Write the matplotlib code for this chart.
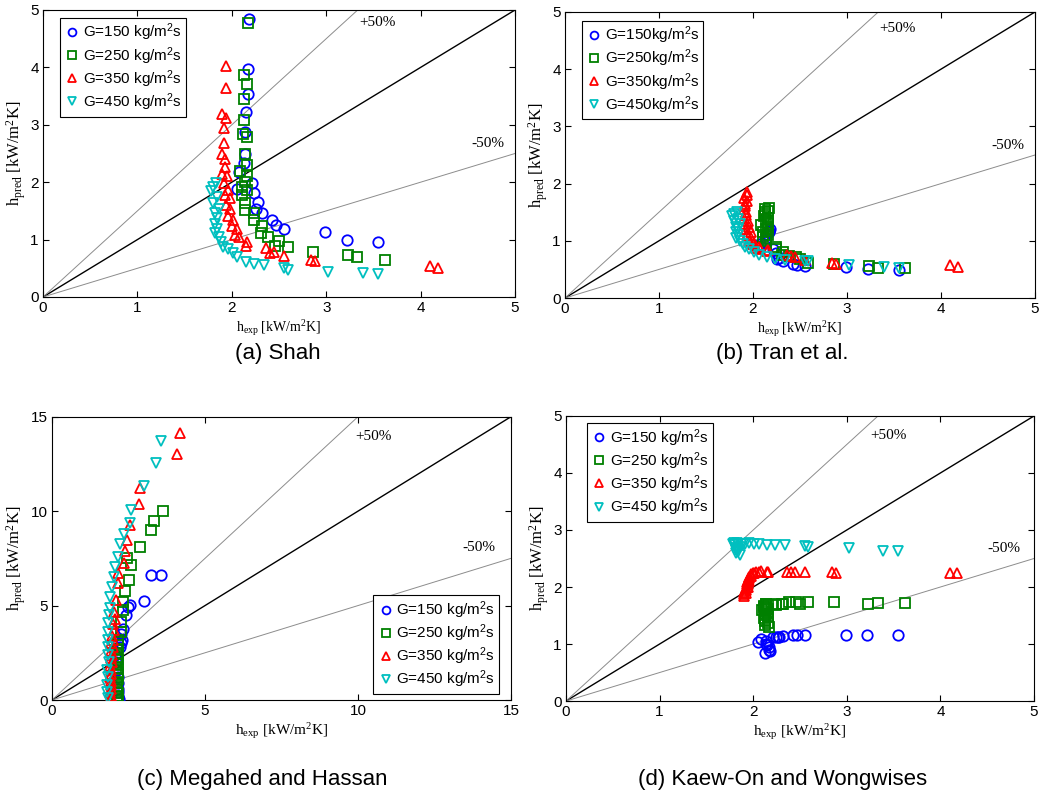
import numpy as np
import matplotlib
matplotlib.use('Agg')
import matplotlib.pyplot as plt

plt.rcParams['mathtext.default'] = 'regular'
plt.rcParams['font.family'] = ['Liberation Sans', 'DejaVu Sans']

# experimental h [kW/m2K] for each mass flux
x150 = [2.18, 2.17, 2.17, 2.15, 2.14, 2.14, 2.13, 2.08, 2.05, 2.21, 2.24, 2.28, 2.26, 2.32,
        2.43, 2.47, 2.55, 2.99, 3.22, 3.55]
x250 = [2.17, 2.13, 2.16, 2.13, 2.13, 2.12, 2.16, 2.14, 2.16, 2.09, 2.16, 2.14, 2.11, 2.16,
        2.11, 2.14, 2.14, 2.24, 2.24, 2.32, 2.31, 2.38, 2.50, 2.46, 2.59, 2.86, 3.23, 3.33, 3.62]
x350 = [1.94, 1.94, 1.90, 1.94, 1.92, 1.92, 1.90, 1.93, 1.93, 1.90, 1.95, 1.92, 1.96, 1.93,
        1.98, 1.94, 1.98, 1.96, 2.01, 2.00, 2.06, 2.03, 2.08, 2.16, 2.15, 2.36, 2.40, 2.45,
        2.55, 2.84, 2.88, 4.10, 4.18]
x450 = [1.83, 1.80, 1.78, 1.84, 1.80, 1.86, 1.82, 1.84, 1.82, 1.84, 1.82, 1.86, 1.89, 1.91,
        1.96, 2.01, 2.06, 2.15, 2.23, 2.34, 2.55, 2.59, 3.02, 3.39, 3.55]

# (a) Shah
shah150 = [4.85, 3.97, 3.54, 3.22, 2.88, 2.49, 2.33, 2.17, 1.89, 1.98, 1.81, 1.66, 1.54, 1.47,
           1.34, 1.25, 1.19, 1.14, 0.99, 0.96]
shah250 = [4.78, 3.86, 3.71, 3.45, 3.09, 2.84, 2.79, 2.49, 2.30, 2.19, 2.10, 2.01, 1.92, 1.86,
           1.78, 1.63, 1.52, 1.46, 1.34, 1.24, 1.12, 1.05, 0.98, 0.89, 0.87, 0.79, 0.73, 0.69, 0.64]
shah350 = [4.02, 3.64, 3.18, 3.11, 2.94, 2.68, 2.49, 2.40, 2.27, 2.14, 2.10, 1.99, 1.86, 1.78,
           1.72, 1.60, 1.54, 1.41, 1.34, 1.24, 1.18, 1.08, 1.04, 0.96, 0.89, 0.85, 0.76, 0.79,
           0.71, 0.64, 0.63, 0.54, 0.51]
shah450 = [1.99, 1.92, 1.84, 1.75, 1.63, 1.54, 1.46, 1.37, 1.27, 1.19, 1.11, 1.04, 0.96, 0.87,
           0.83, 0.76, 0.70, 0.61, 0.57, 0.55, 0.51, 0.47, 0.44, 0.42, 0.40]

# (b) Tran et al.
tran150 = [1.20, 1.18, 1.15, 1.12, 1.10, 1.05, 1.00, 0.95, 0.90, 0.85, 0.78, 0.70, 0.68, 0.64,
           0.60, 0.57, 0.56, 0.55, 0.51, 0.49]
tran250 = [1.57, 1.55, 1.52, 1.50, 1.47, 1.44, 1.40, 1.36, 1.32, 1.28, 1.24, 1.20, 1.15, 1.10,
           1.06, 1.03, 1.00, 0.89, 0.85, 0.80, 0.76, 0.73, 0.68, 0.71, 0.62, 0.60, 0.56, 0.53, 0.52]
tran350 = [1.86, 1.80, 1.75, 1.70, 1.65, 1.60, 1.55, 1.50, 1.45, 1.40, 1.35, 1.30, 1.25, 1.20,
           1.15, 1.10, 1.05, 1.00, 0.97, 0.94, 0.90, 0.88, 0.86, 0.84, 0.82, 0.75, 0.73, 0.71,
           0.66, 0.62, 0.59, 0.58, 0.55]
tran450 = [1.51, 1.47, 1.43, 1.39, 1.35, 1.30, 1.25, 1.20, 1.15, 1.10, 1.05, 1.00, 0.95, 0.90,
           0.85, 0.81, 0.76, 0.72, 0.69, 0.66, 0.65, 0.64, 0.58, 0.55, 0.53]

# (c) Megahed and Hassan
mega150 = [0.05, 0.20, 0.40, 0.60, 0.90, 1.20, 1.60, 2.00, 2.40, 2.80, 3.00, 3.20, 3.50, 3.74,
           4.50, 4.90, 5.03, 5.25, 6.61, 6.61]
mega250 = [0.05, 0.20, 0.35, 0.50, 0.70, 0.90, 1.10, 1.30, 1.50, 1.70, 1.90, 2.10, 2.30, 2.50,
           2.70, 2.90, 3.20, 3.60, 4.14, 4.76, 5.17, 5.78, 6.35, 7.50, 7.14, 8.08, 9.00, 9.49, 10.0]
mega350 = [0.05, 0.20, 0.40, 0.60, 0.80, 1.00, 1.20, 1.40, 1.60, 1.80, 2.00, 2.20, 2.40, 2.60,
           2.80, 3.00, 3.20, 3.40, 3.70, 4.00, 4.30, 4.67, 5.29, 6.70, 6.17, 7.23, 7.90, 8.47,
           9.26, 10.37, 11.20, 13.05, 14.14]
mega450 = [0.10, 0.40, 0.80, 1.20, 1.60, 2.00, 2.40, 2.80, 3.20, 3.60, 4.10, 4.50, 4.85, 5.47,
           6.00, 6.52, 7.05, 7.58, 8.28, 8.78, 9.35, 10.05, 11.32, 12.57, 13.72]

# (d) Kaew-On and Wongwises
kaew150 = [0.87, 0.90, 0.95, 0.98, 1.00, 1.05, 0.84, 1.08, 1.04, 1.13, 1.13, 1.13, 1.12, 1.14,
           1.15, 1.15, 1.15, 1.15, 1.15, 1.15]
kaew250 = [1.30, 1.33, 1.36, 1.40, 1.43, 1.46, 1.50, 1.53, 1.56, 1.60, 1.62, 1.64, 1.66, 1.68,
           1.65, 1.70, 1.71, 1.68, 1.70, 1.71, 1.70, 1.73, 1.71, 1.73, 1.73, 1.73, 1.70, 1.72, 1.72]
kaew350 = [2.10, 2.05, 1.85, 2.00, 1.90, 1.95, 1.88, 2.00, 2.05, 1.92, 2.10, 1.98, 2.15, 2.08,
           2.20, 2.12, 2.22, 2.18, 2.25, 2.24, 2.27, 2.26, 2.28, 2.27, 2.26, 2.27, 2.27, 2.27,
           2.27, 2.27, 2.25, 2.24, 2.24]
kaew450 = [2.78, 2.77, 2.76, 2.75, 2.73, 2.71, 2.69, 2.67, 2.65, 2.62, 2.60, 2.57, 2.75, 2.76,
           2.77, 2.75, 2.75, 2.74, 2.74, 2.73, 2.72, 2.70, 2.69, 2.64, 2.64]

xs = [x150, x250, x350, x450]
G = [150, 250, 350, 450]
markers = ['o', 's', '^', 'v']
colors = ['#0000ff', '#008000', '#ff0000', '#00bfbf']

panels = [
    dict(ys=[shah150, shah250, shah350, shah450], lim=5, pos=[0.0411, 0.6283, 0.4508, 0.3592],
         sep=' ', loc='upper left', bb=(0.036, 0.972), p50=(3.35, 4.78), m50=(4.54, 2.68),
         cap='(a) Shah', cx=278, cy=353, xlfs=10),
    dict(ys=[tran150, tran250, tran350, tran450], lim=5, pos=[0.5396, 0.6270, 0.4489, 0.3580],
         sep='', loc='upper left', bb=(0.036, 0.969), p50=(3.34, 4.72), m50=(4.54, 2.66),
         cap='(b) Tran et al.', cx=782, cy=353, xlfs=10),
    dict(ys=[mega150, mega250, mega350, mega450], lim=15, pos=[0.0497, 0.1239, 0.4384, 0.3546],
         sep=' ', loc='lower right', bb=(0.974, 0.021), p50=(9.9, 13.93), m50=(13.4, 8.1),
         cap='(c) Megahed and Hassan', cx=262, cy=780, xlfs=11),
    dict(ys=[kaew150, kaew250, kaew350, kaew450], lim=5, pos=[0.5406, 0.1226, 0.4470, 0.3568],
         sep=' ', loc='upper left', bb=(0.045, 0.975), p50=(3.25, 4.65), m50=(4.50, 2.68),
         cap='(d) Kaew-On and Wongwises', cx=783, cy=780, xlfs=11),
]

serif = ['Liberation Serif', 'DejaVu Serif']

fig = plt.figure(figsize=(10.47, 7.99), dpi=100)
for p in panels:
    ax = fig.add_axes(p['pos'])
    lim = p['lim']
    ref = np.array([0, lim])
    ax.plot(ref, ref, color='black', lw=1.0, zorder=1)
    ax.plot(ref, 1.5 * ref, color='#8c8c8c', lw=0.7, zorder=1)
    ax.plot(ref, 0.5 * ref, color='#8c8c8c', lw=0.7, zorder=1)
    for x, y, g, m, c in zip(xs, p['ys'], G, markers, colors):
        ax.plot(x, y, linestyle='none', marker=m, ms=7.5, mfc='none', mec=c, mew=1.3,
                label='G=%d%skg/m$^2$s' % (g, p['sep']), zorder=3)
    ax.text(p['p50'][0], p['p50'][1], '+50%', family=serif, fontsize=11, va='center')
    ax.text(p['m50'][0], p['m50'][1], '-50%', family=serif, fontsize=11, va='center')
    ax.set_xlim(0, lim)
    ax.set_ylim(0, lim)
    step = 1 if lim == 5 else 5
    ax.set_xticks(np.arange(0, lim + 0.1, step))
    ax.set_yticks(np.arange(0, lim + 0.1, step))
    ax.tick_params(direction='in', top=True, right=True, length=4, labelsize=11, pad=3)
    for s in ax.spines.values():
        s.set_linewidth(0.8)
    ax.set_xlabel('h$_{exp}$ [kW/m$^2$K]', family=serif, fontsize=p['xlfs'], labelpad=2)
    ax.set_ylabel('h$_{pred}$ [kW/m$^2$K]', family=serif, fontsize=12, labelpad=2)
    leg = ax.legend(loc=p['loc'], bbox_to_anchor=p['bb'], borderaxespad=0, fontsize=11,
                    handletextpad=0.15, handlelength=1.1, markerscale=0.75,
                    borderpad=0.25, labelspacing=0.1, fancybox=False, framealpha=1)
    leg.get_frame().set_edgecolor('black')
    leg.get_frame().set_linewidth(0.8)
    fig.text(p['cx'] / 1047, 1 - p['cy'] / 799, p['cap'], ha='center', va='center',
             fontsize=16, family=['Liberation Sans', 'DejaVu Sans'])

fig.savefig('out.png', dpi=100)
